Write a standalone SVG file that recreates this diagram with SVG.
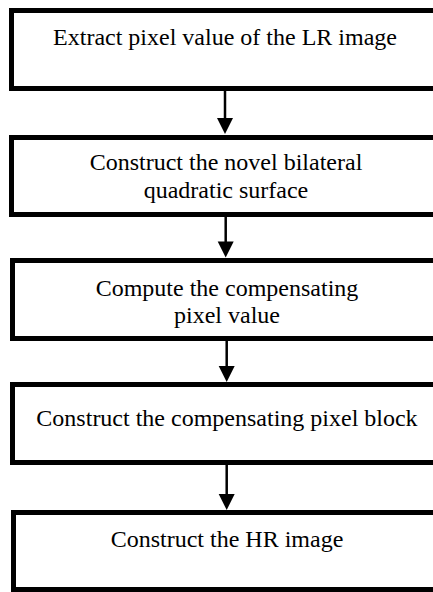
<svg xmlns="http://www.w3.org/2000/svg" width="433" height="592" viewBox="0 0 433 592">
<style>
.box{fill:#fff;stroke:#000;stroke-width:5}
.t{font-family:"Liberation Serif","Times New Roman",serif;font-size:24px;fill:#000;text-anchor:middle}
.c{stroke:#000;stroke-width:2.5;fill:none}
.h{fill:#000}
</style>
<rect width="433" height="592" fill="#fff"/>
<g id="n1"><rect class="box" x="11.5" y="10.5" width="440" height="78"/><text class="t" x="225" y="45">Extract pixel value of the LR image</text></g>
<g id="n2"><rect class="box" x="11.5" y="137.5" width="440" height="77"/><text class="t" x="226" y="170">Construct the novel bilateral</text><text class="t" x="226" y="198">quadratic surface</text></g>
<g id="n3"><rect class="box" x="12.5" y="260.5" width="440" height="78"/><text class="t" x="227" y="296">Compute the compensating</text><text class="t" x="227" y="323">pixel value</text></g>
<g id="n4"><rect class="box" x="12.5" y="384.5" width="440" height="78"/><text class="t" x="227" y="426">Construct the compensating pixel block</text></g>
<g id="n5"><rect class="box" x="13.5" y="512.5" width="440" height="77"/><text class="t" x="227" y="547">Construct the HR image</text></g>
<g id="connectors">
<line class="c" x1="225" y1="91" x2="225" y2="120"/><polygon class="h" points="217,118 233,118 225,134"/>
<line class="c" x1="225.7" y1="217" x2="225.7" y2="243"/><polygon class="h" points="217.7,241.5 233.7,241.5 225.7,257.5"/>
<line class="c" x1="226.7" y1="341" x2="226.7" y2="367"/><polygon class="h" points="218.7,366 234.7,366 226.7,382"/>
<line class="c" x1="226.7" y1="465" x2="226.7" y2="496"/><polygon class="h" points="218.7,494 234.7,494 226.7,510"/>
</g>
</svg>
